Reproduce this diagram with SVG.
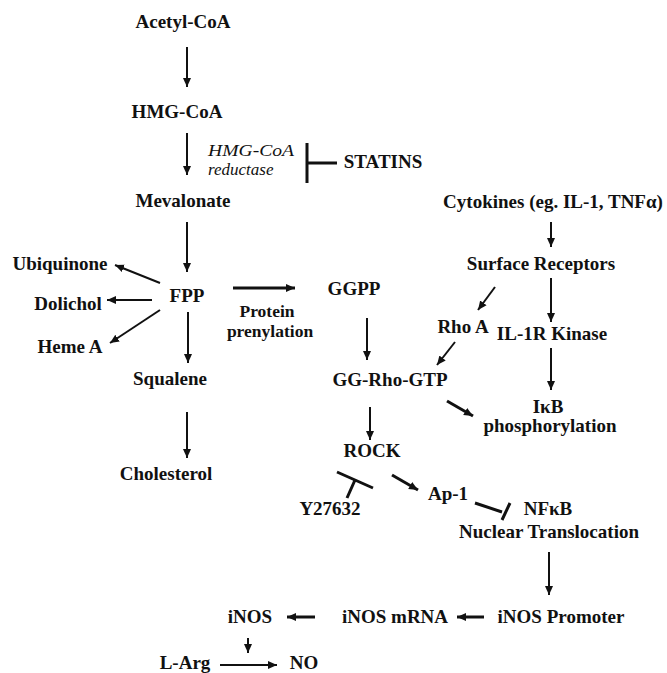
<svg xmlns="http://www.w3.org/2000/svg" width="667" height="673" viewBox="0 0 667 673">
<style>
text{font-family:"Liberation Serif","Times New Roman",serif;font-size:19px;font-weight:bold;fill:#111;text-anchor:middle}
text.it{font-style:italic;font-weight:normal;font-size:17px;text-anchor:start}
text.sm{font-size:17.5px}
.a{stroke:#111;stroke-width:2;fill:none;marker-end:url(#ah)}
.t{stroke:#111;stroke-width:3;marker-end:url(#ah)}
.i{stroke:#111;stroke-width:3;fill:none}
</style>
<defs>
<marker id="ah" markerUnits="userSpaceOnUse" markerWidth="10" markerHeight="10" refX="9" refY="4.5" orient="auto"><path d="M0,0.5 L9,4.5 L0,8.5 z" fill="#111"/></marker>
</defs>
<rect width="667" height="673" fill="#fff"/>
<g id="acetylcoa"><text x="183" y="28">Acetyl-CoA</text></g>
<g id="hmgcoa"><text x="177" y="118">HMG-CoA</text></g>
<g id="reductase"><text class="it" x="208" y="156" textLength="86" lengthAdjust="spacingAndGlyphs">HMG-CoA</text><text class="it" x="208" y="175">reductase</text></g>
<g id="statins"><text x="383" y="168">STATINS</text></g>
<g id="mevalonate"><text x="183" y="207">Mevalonate</text></g>
<g id="fpp"><text x="187" y="302">FPP</text></g>
<g id="ubiquinone"><text x="60" y="270">Ubiquinone</text></g>
<g id="dolichol"><text x="68" y="310">Dolichol</text></g>
<g id="hemea"><text x="70" y="353">Heme A</text></g>
<g id="squalene"><text x="170" y="385">Squalene</text></g>
<g id="cholesterol"><text x="166" y="480">Cholesterol</text></g>
<g id="prenylation"><text class="sm" x="267" y="317">Protein</text><text class="sm" x="270" y="337">prenylation</text></g>
<g id="ggpp"><text x="354" y="295">GGPP</text></g>
<g id="ggrhogtp"><text x="390" y="386">GG-Rho-GTP</text></g>
<g id="rock"><text x="372" y="457">ROCK</text></g>
<g id="y27632"><text x="330" y="515">Y27632</text></g>
<g id="ap1"><text x="448" y="500">Ap-1</text></g>
<g id="cytokines"><text x="553" y="208">Cytokines (eg. IL-1, TNFα)</text></g>
<g id="receptors"><text x="541" y="270">Surface Receptors</text></g>
<g id="rhoa"><text x="463" y="333">Rho A</text></g>
<g id="il1r"><text x="552" y="340">IL-1R Kinase</text></g>
<g id="ikb"><text x="548" y="413">IκB</text><text x="550" y="432">phosphorylation</text></g>
<g id="nfkb"><text x="548" y="515">NFκB</text><text x="549" y="538">Nuclear Translocation</text></g>
<g id="promoter"><text x="561" y="623">iNOS Promoter</text></g>
<g id="mrna"><text x="395" y="623">iNOS mRNA</text></g>
<g id="inos"><text x="250" y="623">iNOS</text></g>
<g id="larg"><text x="185" y="669">L-Arg</text></g>
<g id="no"><text x="304" y="669">NO</text></g>
<g id="connectors">
<line class="a" x1="187" y1="47" x2="187" y2="87"/>
<line class="a" x1="187" y1="133" x2="187" y2="175"/>
<line class="a" x1="187" y1="222" x2="187" y2="272"/>
<line class="a" x1="160" y1="283" x2="115" y2="265"/>
<line class="a" x1="152" y1="300" x2="107" y2="300"/>
<line class="a" x1="160" y1="310" x2="110" y2="343"/>
<line class="a" x1="188" y1="312" x2="188" y2="363"/>
<line class="a" x1="187" y1="412" x2="187" y2="458"/>
<line class="t" x1="233" y1="288" x2="295" y2="288"/>
<line class="a" x1="367" y1="318" x2="367" y2="360"/>
<line class="a" x1="551" y1="222" x2="551" y2="247"/>
<line class="a" x1="551" y1="278" x2="551" y2="322"/>
<line class="a" x1="495" y1="287" x2="478" y2="310"/>
<line class="a" x1="455" y1="342" x2="437" y2="365"/>
<line class="a" x1="551" y1="348" x2="551" y2="390"/>
<line class="t" x1="447" y1="401" x2="473" y2="416"/>
<line class="a" x1="370" y1="407" x2="370" y2="440"/>
<line class="t" x1="392" y1="475" x2="418" y2="490"/>
<line class="a" x1="549" y1="552" x2="549" y2="595"/>
<line class="t" x1="484" y1="617" x2="457" y2="617"/>
<line class="t" x1="315" y1="617" x2="287" y2="617"/>
<line class="a" x1="248" y1="638" x2="248" y2="653"/>
<line class="a" x1="220" y1="665" x2="277" y2="665"/>
<path class="i" d="M307,143 L307,183 M307,163 L337,163"/>
<path class="i" d="M337,472 L373,488 M355,480 L347,498"/>
<path class="i" d="M475,503 L502,512 M510,503 L502,520"/>
</g>
</svg>
